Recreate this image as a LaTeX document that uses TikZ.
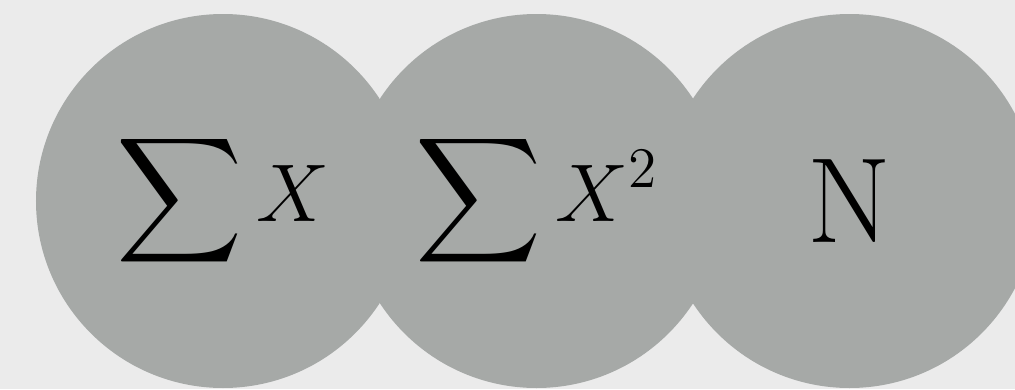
\RequirePackage{fix-cm}
\documentclass[tikz,border=0pt]{standalone}
\usepackage{amsmath}
\usepackage{exscale}
\usetikzlibrary{positioning}
\definecolor{cbg}{HTML}{EBEBEB}
\definecolor{cgrey}{HTML}{A6A9A7}
\tikzset{
  stat/.style={circle, fill=cgrey, minimum size=3.74cm, inner sep=0pt},
  sumtext/.style={font=\fontsize{23.3}{28}\selectfont},
  bigtext/.style={font=\fontsize{34.5}{40}\selectfont},
}
\begin{document}
\begin{tikzpicture}
  \useasboundingbox[fill=cbg] (0,0) rectangle (10.15,3.89);
  \clip (0,0) rectangle (10.15,3.89);
  % running sums
  \foreach \name/\x/\lab in {sumx/2.23/{$\displaystyle\sum X$}, sumxx/5.365/{$\displaystyle\sum X^2$}} {
    \node[stat, sumtext] (\name) at (\x,1.88) {\lab};
  }
  % count
  \node[stat, bigtext] (count) at (8.495,1.88) {N};
\end{tikzpicture}
\end{document}
